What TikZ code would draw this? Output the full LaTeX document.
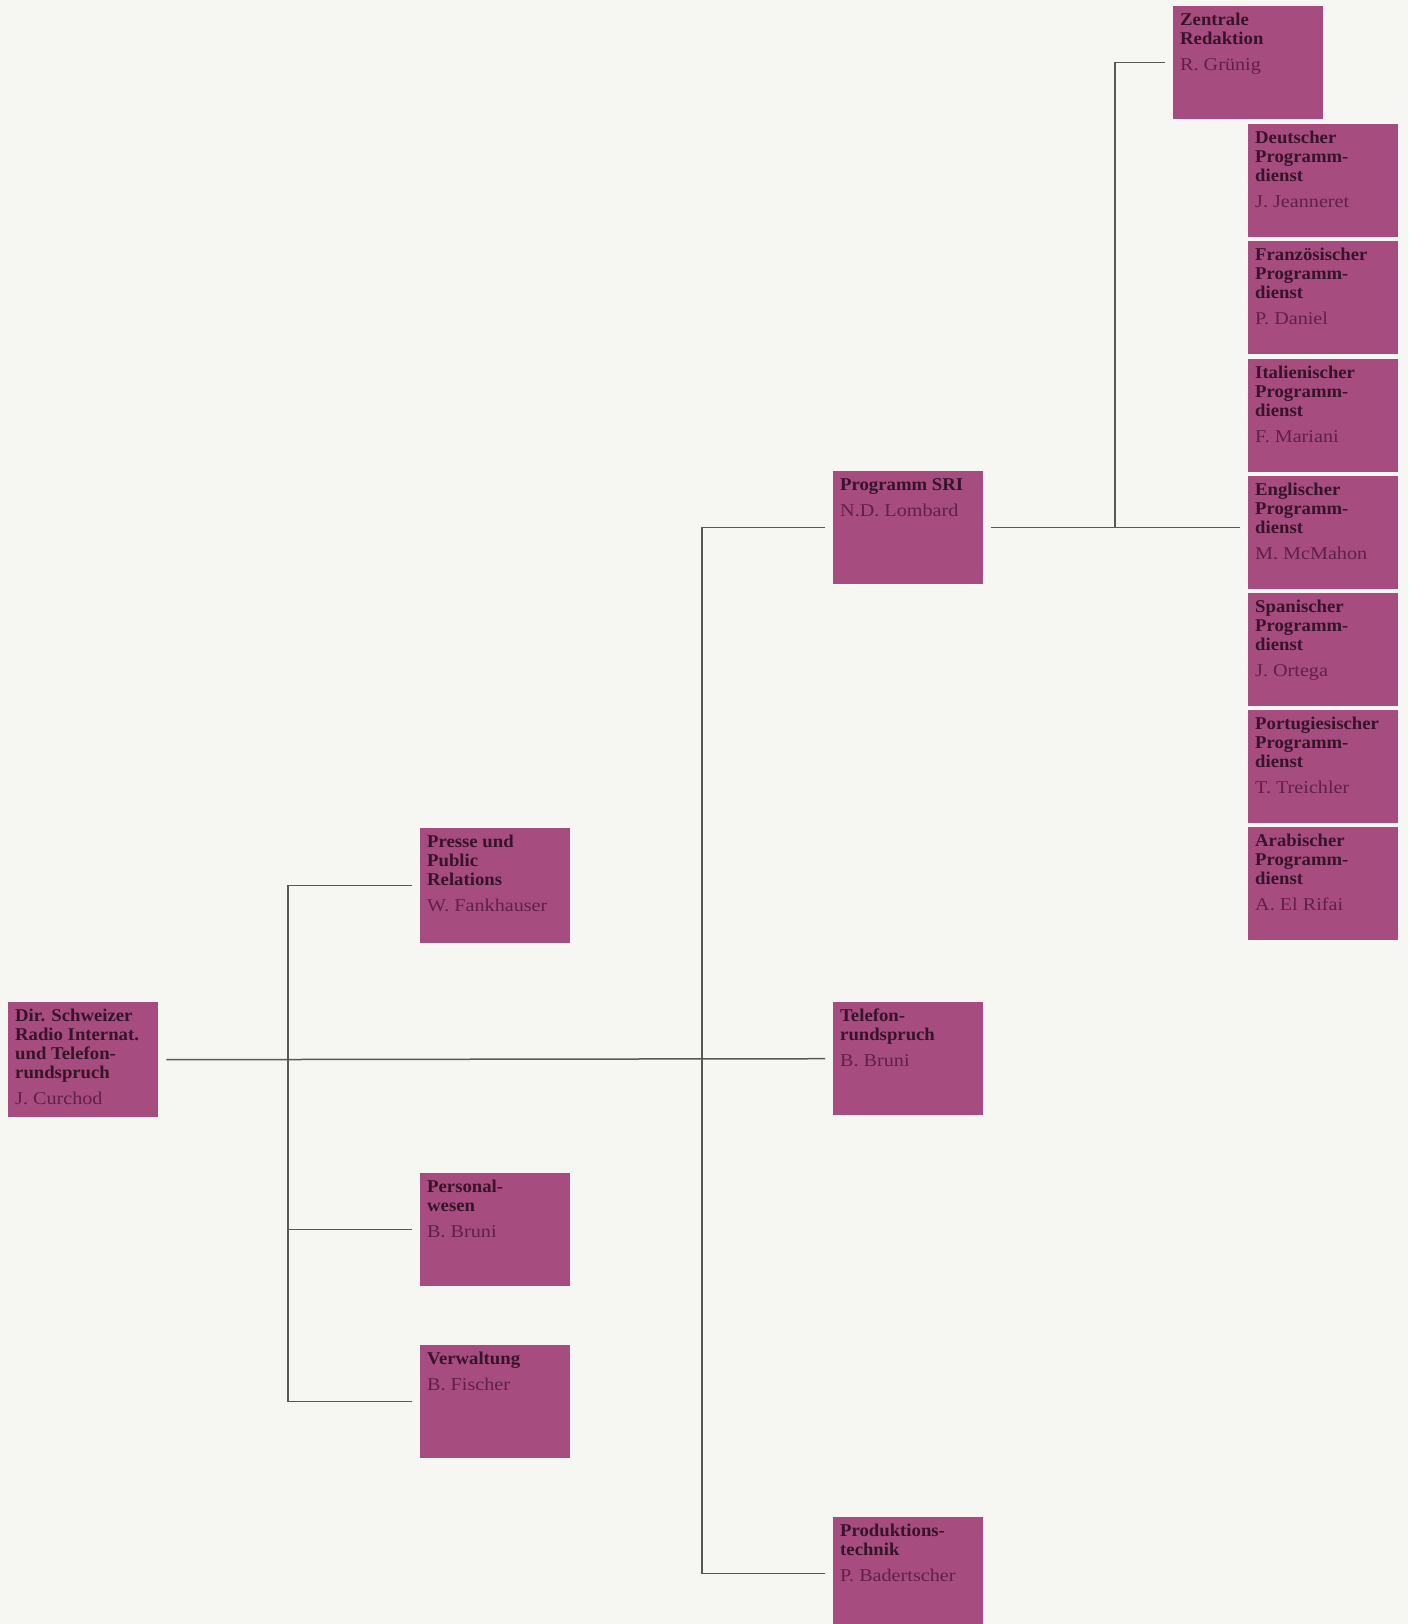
\documentclass[tikz,border=0pt]{standalone}
\usepackage{fontspec}
\setmainfont{Liberation Serif}
\newfontfamily\titlefont[FakeStretch=1.04]{Liberation Serif}
\newfontfamily\namefont[FakeStretch=1.12]{Liberation Serif}
\usetikzlibrary{positioning,calc}
\definecolor{unitpurple}{RGB}{166,76,126}
\definecolor{titleink}{RGB}{54,20,44}
\definecolor{nameink}{RGB}{98,32,72}
\definecolor{linegrey}{RGB}{88,88,88}
\definecolor{paper}{RGB}{246,246,243}

\newcommand{\orgtext}[3][99pt]{%
    \parbox[t][#1][t]{136pt}{\raggedright\fontsize{18}{19}\selectfont
        \color{titleink}\titlefont\bfseries #2\par\vspace{7pt}%
        \namefont\mdseries\color{nameink}#3}}

\tikzset{
    orgbox/.style={fill=unitpurple, anchor=north west, inner xsep=7pt, inner ysep=7pt},
    link/.style={draw=linegrey, line width=1.5pt}
}

\begin{document}
\begin{tikzpicture}[x=1pt, y=-1pt]
    \useasboundingbox (0,0) rectangle (1408,1624);
    \fill[paper] (0,0) rectangle (1408,1624);

    \node[orgbox] (root) at (8,1002) {\orgtext[101pt]{Dir. Schweizer\\Radio Internat.\\und Telefon-\\rundspruch}{J. Curchod}};

    \node[orgbox] (presse) at (420,828) {\orgtext[101pt]{Presse und\\Public\\Relations}{W. Fankhauser}};
    \node[orgbox] (personal) at (420,1173) {\orgtext{Personal-\\wesen}{B. Bruni}};
    \node[orgbox] (verwaltung) at (420,1345) {\orgtext{Verwaltung}{B. Fischer}};

    \node[orgbox] (programm) at (833,471) {\orgtext{Programm SRI}{N.D. Lombard}};
    \node[orgbox] (telefon) at (833,1002) {\orgtext{Telefon-\\rundspruch}{B. Bruni}};
    \node[orgbox] (produktion) at (833,1517) {\orgtext{Produktions-\\technik}{P. Badertscher}};

    \node[orgbox] (zentrale) at (1173,6) {\orgtext{Zentrale\\Redaktion}{R. Grünig}};
    \foreach \lang/\chief [count=\i from 0] in {Deutscher/J. Jeanneret, Französischer/P. Daniel,
            Italienischer/F. Mariani, Englischer/M. McMahon, Spanischer/J. Ortega,
            Portugiesischer/T. Treichler, Arabischer/A. El Rifai}
        \node[orgbox] (dienst\i) at (1248,{124+117.2*\i}) {\orgtext{\lang\\Programm-\\dienst}{\chief}};

    % connectors
    \coordinate (leftbus) at (288,0 |- root.east);
    \coordinate (midbus) at (702,0 |- root.east);
    \coordinate (rightbus) at (1115,0 |- programm.east);

    \draw[link, shorten <=8pt, shorten >=8pt] (root.east) -- (telefon.west);
    \draw[link, shorten <=8pt, shorten >=8pt] (presse.west) -| (leftbus) |- (verwaltung.west);
    \draw[link, shorten >=8pt] (leftbus |- personal.west) -- (personal.west);
    \draw[link, shorten <=8pt, shorten >=8pt] (programm.west) -| (midbus) |- (produktion.west);
    \draw[link, shorten <=8pt, shorten >=8pt] (programm.east) -- (programm.east -| dienst3.west);
    \draw[link, shorten <=8pt] (zentrale.west) -| (rightbus);
\end{tikzpicture}
\end{document}
